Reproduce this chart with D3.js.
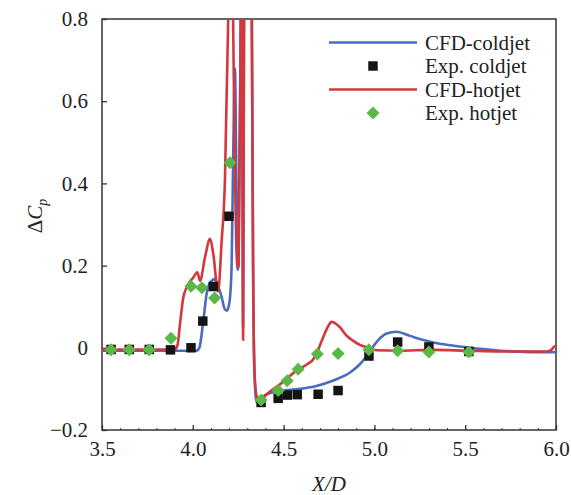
<!DOCTYPE html>
<html>
<head>
<meta charset="utf-8">
<script src="https://cdn.jsdelivr.net/npm/d3@7"></script>
<style>
  body { margin: 0; background: #fff; }
</style>
</head>
<body>
<div class="graph-container"></div>
<script>
// chart data
const xTicks = [3.5, 4.0, 4.5, 5.0, 5.5, 6.0];
const yTicks = [-0.2, 0, 0.2, 0.4, 0.6, 0.8];

const cfdColdX = [3.5, 4.02, 4.036, 4.058, 4.076, 4.09, 4.104, 4.118, 4.13, 4.159, 4.175, 4.187, 4.197, 4.205, 4.214, 4.222, 4.232, 4.24, 4.247, 4.252, 4.264, 4.268, 4.272, 4.277, 4.282, 4.29, 4.318, 4.325, 4.332, 4.34, 4.352, 4.365, 4.385, 4.407, 4.48, 4.59, 4.68, 4.77, 4.866, 4.92, 4.958, 5.003, 5.04, 5.068, 5.12, 5.196, 5.26, 5.324, 5.42, 5.508, 5.69, 5.985, 6.0];
const cfdColdY = [-0.007, -0.007, 0.0, 0.066, 0.131, 0.155, 0.163, 0.167, 0.16, 0.123, 0.095, 0.09, 0.1, 0.123, 0.205, 0.45, 0.68, 0.42, 0.19, 0.2, 0.8, 1.1, 0.8, 0.05, 0.8, 1.1, 1.1, 0.8, 0.2, -0.07, -0.133, -0.13, -0.12, -0.113, -0.105, -0.1, -0.093, -0.08, -0.06, -0.04, -0.02, 0.009, 0.027, 0.035, 0.039, 0.029, 0.02, 0.013, 0.006, 0.001, -0.007, -0.011, -0.011];

const cfdHotX = [3.5, 3.9, 3.915, 3.93, 3.948, 3.966, 4.003, 4.025, 4.04, 4.067, 4.095, 4.113, 4.139, 4.159, 4.177, 4.195, 4.205, 4.215, 4.222, 4.246, 4.252, 4.264, 4.268, 4.272, 4.277, 4.282, 4.29, 4.318, 4.325, 4.332, 4.34, 4.35, 4.362, 4.38, 4.407, 4.48, 4.57, 4.63, 4.66, 4.69, 4.71, 4.74, 4.765, 4.79, 4.81, 4.85, 4.884, 4.92, 4.958, 5.013, 5.14, 5.32, 5.508, 5.69, 5.95, 5.975, 5.99, 6.0];
const cfdHotY = [-0.004, -0.004, 0.005, 0.06, 0.123, 0.147, 0.171, 0.184, 0.163, 0.22, 0.265, 0.228, 0.137, 0.26, 0.407, 0.8, 1.1, 1.1, 0.8, 0.197, 0.2, 0.8, 1.1, 0.8, 0.02, 0.8, 1.1, 1.1, 0.8, 0.2, -0.06, -0.115, -0.128, -0.125, -0.113, -0.089, -0.056, -0.04, -0.03, -0.005, 0.017, 0.048, 0.063, 0.058, 0.05, 0.028, 0.017, 0.007, 0.001, -0.006, -0.007, -0.005, -0.007, -0.009, -0.009, -0.005, 0.003, 0.004];

const expColdX = [3.55, 3.65, 3.76, 3.877, 3.99, 4.055, 4.113, 4.199, 4.376, 4.47, 4.52, 4.575, 4.69, 4.80, 4.97, 5.128, 5.30, 5.52];
const expColdY = [-0.004, -0.004, -0.004, -0.005, 0, 0.065, 0.149, 0.32, -0.133, -0.123, -0.115, -0.114, -0.113, -0.104, -0.02, 0.014, 0.002, -0.009];

const expHotX = [3.55, 3.65, 3.76, 3.88, 3.99, 4.05, 4.12, 4.205, 4.376, 4.47, 4.52, 4.58, 4.686, 4.80, 4.97, 5.128, 5.30, 5.52];
const expHotY = [-0.005, -0.005, -0.005, 0.023, 0.15, 0.146, 0.121, 0.45, -0.127, -0.104, -0.08, -0.052, -0.015, -0.014, -0.005, -0.007, -0.01, -0.01];

const legendLabels = ['CFD-coldjet', 'Exp. coldjet', 'CFD-hotjet', 'Exp. hotjet'];

// svg parameters
const w = 571;
const h = 495;
const margin = { top: 19, right: 15, bottom: 65, left: 102 };
const blue = '#4a6bc0';
const red = '#d2383c';
const green = '#5ab848';
const serif = 'Liberation Serif';

const svg = d3.select('.graph-container')
  .append('svg')
  .attr('width', w)
  .attr('height', h)
  .attr('font-family', serif);

const xScale = d3.scaleLinear([3.5, 6.0], [margin.left, w - margin.right]);
const yScale = d3.scaleLinear([-0.2, 0.8], [h - margin.bottom, margin.top]);

svg.append('clipPath').attr('id', 'plot-clip')
  .append('rect')
  .attr('x', margin.left)
  .attr('y', margin.top)
  .attr('width', w - margin.left - margin.right)
  .attr('height', h - margin.top - margin.bottom);

// axes, ticks pointing inward
const xAxis = d3.axisBottom(xScale).tickValues(xTicks).tickSize(-5).tickPadding(11)
  .tickFormat(d3.format('.1f'));
const xMinor = d3.axisBottom(xScale).tickValues(d3.range(3.6, 6.0, 0.1)).tickSize(-2).tickFormat('');
const yAxis = d3.axisLeft(yScale).tickValues(yTicks).tickSize(-5).tickPadding(14)
  .tickFormat((d) => (d === 0 ? '0' : d3.format('.1f')(d).replace('-', '\u2212')));

const gx = svg.append('g').attr('transform', `translate(0,${h - margin.bottom})`).call(xAxis);
svg.append('g').attr('transform', `translate(0,${h - margin.bottom})`).call(xMinor)
  .select('.domain').remove();
const gy = svg.append('g').attr('transform', `translate(${margin.left},0)`).call(yAxis);

[gx, gy].forEach((g) => {
  g.attr('font-family', serif).attr('font-size', 21);
  g.select('.domain').remove();
  g.selectAll('.tick line').attr('stroke', '#333').attr('stroke-width', 1.3);
  g.selectAll('.tick text').attr('fill', '#222');
});
svg.selectAll('.tick line').attr('stroke', '#333');

// frame
svg.append('rect')
  .attr('x', margin.left)
  .attr('y', margin.top)
  .attr('width', w - margin.left - margin.right)
  .attr('height', h - margin.top - margin.bottom)
  .attr('fill', 'none')
  .attr('stroke', '#333')
  .attr('stroke-width', 1.5);

// CFD lines
const line = d3.line()
  .x((d) => xScale(d[0]))
  .y((d) => yScale(d[1]))
  .curve(d3.curveMonotoneX);

const plot = svg.append('g').attr('clip-path', 'url(#plot-clip)');
plot.append('path')
  .datum(d3.zip(cfdColdX, cfdColdY))
  .attr('d', line)
  .attr('fill', 'none')
  .attr('stroke', blue)
  .attr('stroke-width', 2.6);
plot.append('path')
  .datum(d3.zip(cfdHotX, cfdHotY))
  .attr('d', line)
  .attr('fill', 'none')
  .attr('stroke', red)
  .attr('stroke-width', 2.6);

// experimental points
const square = d3.symbol().type(d3.symbolSquare).size(90);
const diamond = d3.symbol().type(d3.symbolSquare).size(85);

plot.selectAll('.exp-cold')
  .data(d3.zip(expColdX, expColdY))
  .enter()
  .append('path')
  .attr('class', 'exp-cold')
  .attr('d', square)
  .attr('transform', (d) => `translate(${xScale(d[0])},${yScale(d[1])})`)
  .attr('fill', '#151515');

plot.selectAll('.exp-hot')
  .data(d3.zip(expHotX, expHotY))
  .enter()
  .append('path')
  .attr('class', 'exp-hot')
  .attr('d', diamond)
  .attr('transform', (d) => `translate(${xScale(d[0])},${yScale(d[1])}) rotate(45)`)
  .attr('fill', green);

// axis titles
svg.append('text')
  .attr('x', (margin.left + w - margin.right) / 2)
  .attr('y', 491)
  .attr('text-anchor', 'middle')
  .attr('font-size', 21)
  .attr('font-style', 'italic')
  .attr('fill', '#222')
  .text('X/D');

const yt = svg.append('text')
  .attr('transform', 'translate(42,216) rotate(-90)')
  .attr('text-anchor', 'middle')
  .attr('font-size', 21)
  .attr('fill', '#222');
yt.append('tspan').text('\u0394');
yt.append('tspan').attr('font-style', 'italic').text('C');
yt.append('tspan').attr('font-style', 'italic').attr('font-size', 14).attr('dy', 5).text('p');

// legend
const legend = svg.append('g').attr('id', 'legend');
const rowsY = [42.5, 66, 89.5, 113];
legendLabels.forEach((label, i) => {
  const y = rowsY[i];
  if (i % 2 === 0) {
    legend.append('line')
      .attr('x1', 329).attr('x2', 417)
      .attr('y1', y).attr('y2', y)
      .attr('stroke', i === 0 ? blue : red)
      .attr('stroke-width', 2.6);
  } else {
    legend.append('path')
      .attr('d', i === 1 ? square : diamond)
      .attr('transform', i === 1 ? `translate(373,${y})` : `translate(373,${y}) rotate(45)`)
      .attr('fill', i === 1 ? '#151515' : green);
  }
  legend.append('text')
    .attr('x', 425)
    .attr('y', y + 7)
    .attr('font-size', 21)
    .attr('fill', '#222')
    .text(label);
});
</script>
</body>
</html>
